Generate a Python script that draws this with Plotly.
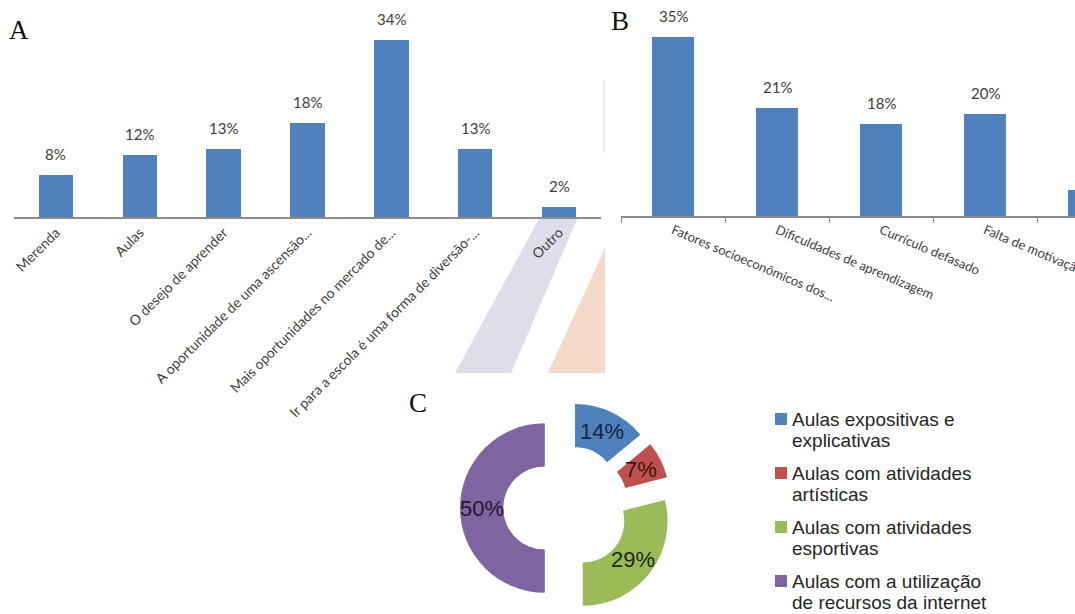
import math
import plotly.graph_objects as go

W, H = 1075, 614

# --- Panel A: motivos para ir à escola ---
motivos_a = [
    "Merenda",
    "Aulas",
    "O desejo de aprender",
    "A oportunidade de uma ascensão...",
    "Mais oportunidades no mercado de...",
    "Ir para a escola é uma forma de diversão-...",
    "Outro",
]
pct_a = [8, 12, 13, 18, 34, 13, 2]

# --- Panel B: fatores ---
fatores_b = [
    "Fatores socioeconômicos dos...",
    "Dificuldades de aprendizagem",
    "Currículo defasado",
    "Falta de motivação",
    "Outros",
]
pct_b = [35, 21, 18, 20, 5]

# --- Panel C: metodologias ---
metodos_c = [
    ["Aulas expositivas e", "explicativas"],
    ["Aulas com atividades", "artísticas"],
    ["Aulas com atividades", "esportivas"],
    ["Aulas com a utilização", "de recursos da internet"],
]
pct_c = [14, 7, 29, 50]
cores_c = ["#4F81BD", "#C0504D", "#9BBB59", "#8064A2"]
texto_c = ["#17253f", "#3b1414", "#1c2a0c", "#221634"]

BAR = "#4F81BD"
AXIS = "#8c8c8c"
LABEL = "#404040"
SANS = "Lato, Open Sans, sans-serif"

# donut geometry (pixels)
DONUT_X = (460, 672)
DONUT_Y = (402, 614)
HOLE = 0.49
PULL = 0.25


def px(x):
    return x / W


def py(y):
    return 1 - y / H


fig = go.Figure()

fig.add_trace(go.Bar(x=motivos_a, y=pct_a, marker=dict(color=BAR, line=dict(width=0)),
                     width=0.41, xaxis="x", yaxis="y", hoverinfo="x+y"))
fig.add_trace(go.Bar(x=fatores_b, y=pct_b, marker=dict(color=BAR, line=dict(width=0)),
                     width=0.40, xaxis="x2", yaxis="y2", hoverinfo="x+y"))

fig.add_trace(go.Pie(
    values=pct_c,
    labels=[" ".join(m) for m in metodos_c],
    textinfo="none",
    marker=dict(colors=cores_c, line=dict(width=0)),
    hole=HOLE,
    pull=PULL,
    sort=False,
    direction="clockwise",
    rotation=0,
    domain=dict(x=[px(DONUT_X[0]), px(DONUT_X[1])], y=[py(DONUT_Y[1]), py(DONUT_Y[0])]),
    showlegend=False,
))

annotations = []
for c, v in zip(motivos_a, pct_a):
    annotations.append(dict(x=c, y=v, xref="x", yref="y", text=f"{v}%", showarrow=False,
                            yanchor="middle", yshift=21,
                            font=dict(family=SANS, size=15, color=LABEL)))
for c, v in zip(fatores_b, pct_b):
    annotations.append(dict(x=c, y=v, xref="x2", yref="y2", text=f"{v}%", showarrow=False,
                            yanchor="middle", yshift=21,
                            font=dict(family=SANS, size=15, color=LABEL)))

# slice labels: centred on each ring segment, following the pull
cx = (DONUT_X[0] + DONUT_X[1]) / 2
cy = (DONUT_Y[0] + DONUT_Y[1]) / 2
R = min(DONUT_X[1] - DONUT_X[0], DONUT_Y[1] - DONUT_Y[0]) / (2 + 2 * PULL)
dist = PULL * R + R * (1 + HOLE) / 2
total = sum(pct_c)
acc = 0
for v, col in zip(pct_c, texto_c):
    theta = 2 * math.pi * (acc + v / 2) / total
    acc += v
    annotations.append(dict(x=px(cx + dist * math.sin(theta)), y=py(cy - dist * math.cos(theta)),
                            xref="paper", yref="paper", text=f"{v}%", showarrow=False,
                            xanchor="center", yanchor="middle",
                            font=dict(family="Liberation Sans, Arial", size=22, color=col)))

# panel letters
for letter, (lx, ly) in {"A": (19, 30), "B": (620, 21), "C": (418, 403)}.items():
    annotations.append(dict(x=px(lx), y=py(ly), xref="paper", yref="paper", text=letter,
                            showarrow=False, xanchor="center", yanchor="middle",
                            font=dict(family="Liberation Serif, Times New Roman, serif",
                                      size=27, color="#111111")))

shapes = [
    # soft decorative bands behind the lower right of panel A
    dict(type="path", xref="paper", yref="paper", layer="below", line=dict(width=0),
         fillcolor="#dddeea",
         path=f"M {px(540)} {py(217)} L {px(578)} {py(217)} L {px(511)} {py(373)} L {px(455)} {py(373)} Z"),
    dict(type="path", xref="paper", yref="paper", layer="below", line=dict(width=0),
         fillcolor="#f4d8ca",
         path=f"M {px(605)} {py(248)} L {px(605)} {py(373)} L {px(548)} {py(373)} Z"),
    # thin border line on the left of panel B
    dict(type="line", xref="paper", yref="paper", layer="below",
         x0=px(604), x1=px(604), y0=py(80), y1=py(153), line=dict(color="#d4d4d4", width=1)),
]

# legend for panel C
LEG_TOP, LEG_STEP, LINE_STEP = 419, 54, 21
for i, (linhas, cor) in enumerate(zip(metodos_c, cores_c)):
    y0 = LEG_TOP + LEG_STEP * i
    shapes.append(dict(type="rect", xref="paper", yref="paper",
                       x0=px(775), x1=px(787), y0=py(y0 + 6), y1=py(y0 - 6),
                       fillcolor=cor, line=dict(width=0)))
    for j, linha in enumerate(linhas):
        annotations.append(dict(x=px(790), y=py(y0 + LINE_STEP * j), xref="paper", yref="paper",
                                text=linha, showarrow=False, xanchor="left", yanchor="middle",
                                font=dict(family="Liberation Sans, Arial", size=19, color="#262626")))

fig.update_layout(
    template="none",
    width=W, height=H,
    margin=dict(l=0, r=0, t=0, b=0),
    paper_bgcolor="white",
    plot_bgcolor="rgba(0,0,0,0)",
    showlegend=False,
    bargap=0,
    xaxis=dict(domain=[px(14), px(601)], anchor="y", type="category", range=[-0.5, 6.5],
               showline=True, linecolor=AXIS, linewidth=2, ticks="", showgrid=False,
               zeroline=False, tickangle=-45, automargin=False,
               tickfont=dict(family=SANS, size=14, color=LABEL)),
    yaxis=dict(domain=[py(217), py(9)], anchor="x", range=[0, 40], visible=False,
               showgrid=False, zeroline=False),
    xaxis2=dict(domain=[px(621), 1], anchor="y2", type="category", range=[-0.5, 3.865],
                showline=True, linecolor=AXIS, linewidth=2, ticks="outside", tickson="boundaries",
                ticklen=5, tickcolor=AXIS, showgrid=False, zeroline=False, tickangle=23,
                automargin=False, tickfont=dict(family=SANS, size=13, color=LABEL)),
    yaxis2=dict(domain=[py(216), py(11)], anchor="x2", range=[0, 40], visible=False,
                showgrid=False, zeroline=False),
    annotations=annotations,
    shapes=shapes,
)

fig.write_html("out.html")
